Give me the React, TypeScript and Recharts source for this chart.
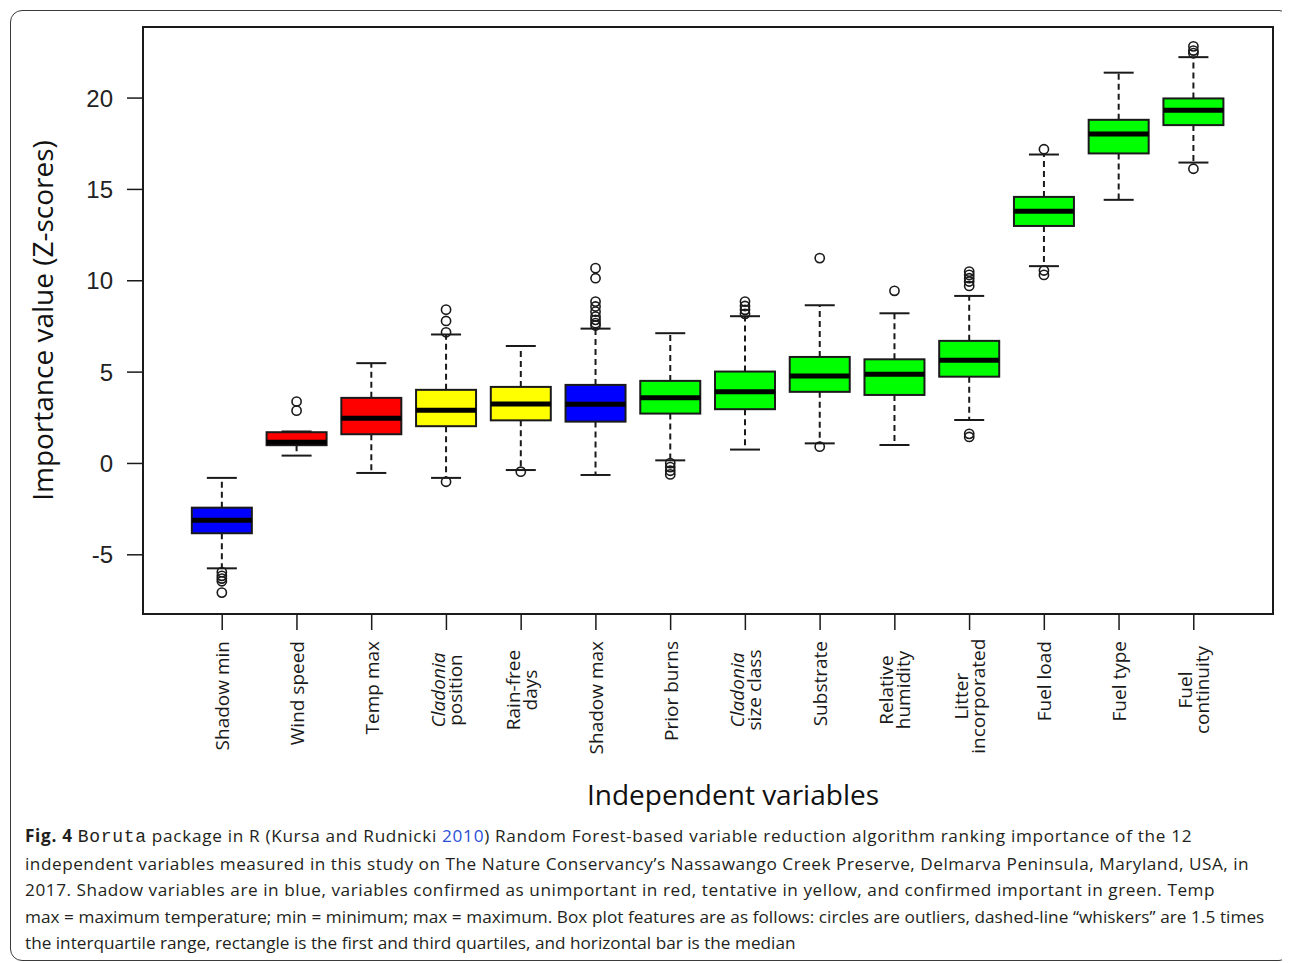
import React from 'react';
import { ComposedChart, Bar, XAxis, YAxis, ReferenceArea, Label } from 'recharts';

// ---- data ----
const categories = [
  'Shadow min', 'Wind speed', 'Temp max', 'Cladonia position', 'Rain-free days', 'Shadow max',
  'Prior burns', 'Cladonia size class', 'Substrate', 'Relative humidity', 'Litter incorporated',
  'Fuel load', 'Fuel type', 'Fuel continuity',
];
const tickLines: string[][] = [
  ['Shadow min'], ['Wind speed'], ['Temp max'], ['Cladonia', 'position'], ['Rain-free', 'days'],
  ['Shadow max'], ['Prior burns'], ['Cladonia', 'size class'], ['Substrate'], ['Relative', 'humidity'],
  ['Litter', 'incorporated'], ['Fuel load'], ['Fuel type'], ['Fuel', 'continuity'],
];
const italicWords = ['Cladonia'];
const status = [
  'shadow', 'rejected', 'rejected', 'tentative', 'tentative', 'shadow', 'confirmed',
  'confirmed', 'confirmed', 'confirmed', 'confirmed', 'confirmed', 'confirmed', 'confirmed',
];
const whiskerLow = [-5.74, 0.43, -0.52, -0.79, -0.36, -0.63, 0.17, 0.76, 1.1, 1.01, 2.38, 10.8, 14.43, 16.47];
const q1 = [-3.82, 1.0, 1.6, 2.04, 2.36, 2.29, 2.73, 2.97, 3.92, 3.75, 4.75, 13.0, 16.97, 18.52];
const median = [-3.11, 1.16, 2.47, 2.91, 3.26, 3.24, 3.59, 3.93, 4.79, 4.88, 5.65, 13.81, 18.03, 19.34];
const q3 = [-2.42, 1.71, 3.59, 4.03, 4.19, 4.3, 4.52, 5.03, 5.83, 5.7, 6.71, 14.59, 18.81, 19.98];
const whiskerHigh = [-0.79, 1.75, 5.49, 7.06, 6.43, 7.38, 7.13, 8.06, 8.66, 8.22, 9.17, 16.91, 21.39, 22.24];
const outliers: number[][] = [
  [-5.95, -6.15, -6.3, -6.45, -7.07],
  [2.89, 3.39],
  [],
  [7.18, 7.8, 8.42, -1.0],
  [-0.45],
  [7.55, 7.68, 7.86, 8.04, 8.31, 8.59, 8.86, 10.14, 10.69],
  [0.02, -0.2, -0.4, -0.6],
  [8.19, 8.41, 8.62, 8.86],
  [11.24, 0.92],
  [9.45],
  [9.72, 9.96, 10.14, 10.32, 10.5, 1.45, 1.62],
  [17.2, 10.56, 10.32],
  [],
  [22.46, 22.6, 22.83, 16.13],
];
const yTicks = [-5, 0, 5, 10, 15, 20];
const yDomain: [number, number] = [-8.24, 23.89];
const xDomain: [number, number] = [-0.06, 15.06];

const fills: Record<string, string> = {
  shadow: '#0000FF',
  rejected: '#FF0000',
  tentative: '#FFFF00',
  confirmed: '#00FF00',
};

const data = categories.map((name, i) => {
  const all = [whiskerLow[i], whiskerHigh[i], q1[i], q3[i], ...outliers[i]];
  return {
    pos: i + 1,
    name,
    idx: i,
    span: [Math.min(...all), Math.max(...all)],
  };
});

const INK = '#1a1a1a';

const BoxShape = (props: any) => {
  const { x, y, width, height, payload } = props;
  const i = payload.idx;
  const [lo, hi] = payload.span;
  const top = Math.min(y, y + height);
  const bot = Math.max(y, y + height);
  const py = (v: number) => top + ((hi - v) / (hi - lo)) * (bot - top);
  const cx = x + width / 2;
  const staple = width / 2;
  return (
    <g>
      <line x1={cx} x2={cx} y1={py(q3[i])} y2={py(whiskerHigh[i])} stroke={INK} strokeWidth={2} strokeDasharray="6 4" />
      <line x1={cx} x2={cx} y1={py(q1[i])} y2={py(whiskerLow[i])} stroke={INK} strokeWidth={2} strokeDasharray="6 4" />
      <line x1={cx - staple / 2} x2={cx + staple / 2} y1={py(whiskerHigh[i])} y2={py(whiskerHigh[i])} stroke={INK} strokeWidth={2} />
      <line x1={cx - staple / 2} x2={cx + staple / 2} y1={py(whiskerLow[i])} y2={py(whiskerLow[i])} stroke={INK} strokeWidth={2} />
      <rect x={x} y={py(q3[i])} width={width} height={py(q1[i]) - py(q3[i])} fill={fills[status[i]]} stroke={INK} strokeWidth={2} />
      <line x1={x} x2={x + width} y1={py(median[i])} y2={py(median[i])} stroke="#000" strokeWidth={5} />
      {outliers[i].map((v, k) => (
        <circle key={k} cx={cx} cy={py(v)} r={4.6} fill="none" stroke={INK} strokeWidth={1.6} />
      ))}
    </g>
  );
};

const XTick = (props: any) => {
  const { x, y, payload } = props;
  const i = Math.round(payload.value) - 1;
  const lines = tickLines[i];
  if (!lines) return null;
  const style = { fontFamily: '"Open Sans", sans-serif', fontSize: 19, fill: '#1a1a1a' };
  if (lines.length === 1) {
    return (
      <text transform={`translate(${x},${y}) rotate(-90)`} textAnchor="end" dominantBaseline="central" style={style}>
        {lines[0]}
      </text>
    );
  }
  const gap = 17;
  const longest = Math.max(...lines.map((l) => l.length));
  const center = Math.max(49, longest * 4.6);
  return (
    <g transform={`translate(${x},${y + center}) rotate(-90)`}>
      {lines.map((ln, k) => (
        <text
          key={k}
          x={0}
          y={(k - (lines.length - 1) / 2) * gap}
          textAnchor="middle"
          dominantBaseline="central"
          style={{ ...style, fontStyle: italicWords.includes(ln) ? 'italic' : 'normal' }}
        >
          {ln}
        </text>
      ))}
    </g>
  );
};

const captionLines = [
  'independent variables measured in this study on The Nature Conservancy\u2019s Nassawango Creek Preserve, Delmarva Peninsula, Maryland, USA, in',
  '2017. Shadow variables are in blue, variables confirmed as unimportant in red, tentative in yellow, and confirmed important in green. Temp',
  'max = maximum temperature; min = minimum; max = maximum. Box plot features are as follows: circles are outliers, dashed-line \u201cwhiskers\u201d are 1.5 times',
  'the interquartile range, rectangle is the first and third quartiles, and horizontal bar is the median',
];
const captionSpacing = [0.68, 0.52, 0.55, 0.05, 0];

export default function App() {
  return (
    <div style={{ position: 'relative', width: 1282, height: 955 }}>
      <style>{'body{overflow:hidden;background:#fff}'}</style>
      <div
        style={{
          position: 'absolute',
          left: 2,
          top: 2,
          width: 1281,
          height: 951,
          border: '1.5px solid #3a3a3a',
          borderRadius: 12,
          boxSizing: 'border-box',
        }}
      />
      <div style={{ position: 'absolute', left: 0, top: 0 }}>
        <ComposedChart width={1282} height={810} data={data} margin={{ top: 19, right: 17, left: 0, bottom: 0 }}>
          <XAxis
            dataKey="pos"
            type="number"
            domain={xDomain}
            allowDataOverflow
            ticks={data.map((d) => d.pos)}
            interval={0}
            tick={<XTick />}
            tickSize={16}
            tickMargin={11}
            axisLine={false}
            tickLine={{ stroke: INK, strokeWidth: 1.5 }}
            height={204}
          >
            <Label
              content={(p: any) => {
                const vb = p.viewBox;
                return (
                  <text
                    x={vb.x + vb.width / 2 + 25}
                    y={vb.y + 180}
                    textAnchor="middle"
                    dominantBaseline="central"
                    style={{ fontFamily: '"Open Sans", sans-serif', fontSize: 28, fill: '#111' }}
                  >
                    Independent variables
                  </text>
                );
              }}
            />
          </XAxis>
          <YAxis
            type="number"
            domain={yDomain}
            allowDataOverflow
            ticks={yTicks}
            interval={0}
            width={135}
            tickSize={16}
            tickMargin={14}
            axisLine={false}
            tickLine={{ stroke: INK, strokeWidth: 1.5 }}
            tick={{ fontFamily: 'Arial, "Liberation Sans", sans-serif', fontSize: 24, fill: '#222' }}
          >
            <Label
              content={(p: any) => {
                const vb = p.viewBox;
                const cx = vb.x + 34;
                const cy = vb.y + vb.height / 2;
                return (
                  <text
                    transform={`translate(${cx},${cy}) rotate(-90)`}
                    textAnchor="middle"
                    dominantBaseline="central"
                    style={{ fontFamily: '"Open Sans", sans-serif', fontSize: 28, fill: '#111' }}
                  >
                    Importance value (Z-scores)
                  </text>
                );
              }}
            />
          </YAxis>
          <Bar dataKey="span" barSize={60} isAnimationActive={false} shape={BoxShape} />
          <ReferenceArea y1={yDomain[0]} y2={yDomain[1]} fill="none" stroke={INK} strokeWidth={2} fillOpacity={0} />
        </ComposedChart>
      </div>
      <div
        style={{
          position: 'absolute',
          left: 17,
          top: 815,
          fontFamily: '"Open Sans", sans-serif',
          fontSize: 17.2,
          lineHeight: '26.5px',
          color: '#231f20',
          whiteSpace: 'nowrap',
        }}
      >
        <div style={{ letterSpacing: captionSpacing[0] }}>
          <b>Fig. 4</b>{' '}
          <span style={{ fontFamily: '"Liberation Mono", monospace', fontSize: 18 }}>Boruta</span> package in R (Kursa and
          Rudnicki <span style={{ color: '#2b4fd6' }}>2010</span>) Random Forest-based variable reduction algorithm ranking
          importance of the 12
        </div>
        {captionLines.map((t, k) => (
          <div key={k} style={{ letterSpacing: captionSpacing[k + 1] }}>
            {t}
          </div>
        ))}
      </div>
    </div>
  );
}
